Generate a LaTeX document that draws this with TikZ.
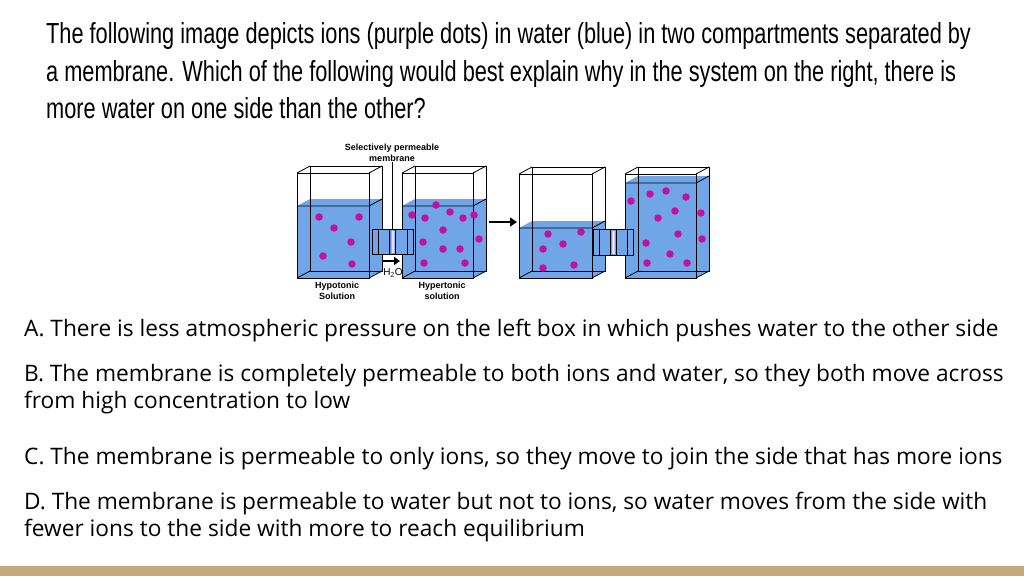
\documentclass[tikz,border=0pt]{standalone}
\usetikzlibrary{arrows.meta}
\usepackage{fontspec}
\setmainfont{Open Sans}
\newfontfamily\titlefont[FakeStretch=0.75]{Liberation Sans}
\newfontfamily\lblfont{Liberation Sans}
\definecolor{water}{RGB}{112,166,232}
\definecolor{ion}{RGB}{196,16,160}
\definecolor{bar}{RGB}{196,168,126}
\newcommand\tank[5]{%
 \fill[water] (#1,#5) -- (#1+13,#5-7) -- (#2+13,#5-7) -- (#2+13,#4-7) -- (#2,#4) -- (#1,#4) -- cycle;
 \draw[edge] (#1,#3) rectangle (#2,#4);
 \draw[edge] (#1+13,#3-7) rectangle (#2+13,#4-7);
 \draw[edge] (#1,#3) -- (#1+13,#3-7) (#2,#3) -- (#2+13,#3-7) (#1,#4) -- (#1+13,#4-7) (#2,#4) -- (#2+13,#4-7);
 \draw[edge] (#1,#5) -- (#2,#5) -- (#2+13,#5-7);
}
\newcommand\tube[4]{%
 \fill[water] (#1,#3) rectangle (#2,#4);
 \draw[edge] (#1,#3) rectangle (#2,#4);
 \draw[edge] (#1+6,#3) -- (#1+6,#4) (#2-6,#3) -- (#2-6,#4);
 \shade[left color=water!60!blue, right color=water!60!blue, middle color=white] ({(#1+#2)/2-3},#3+2) rectangle ({(#1+#2)/2+3},#4-2);
 \draw[edge] ({(#1+#2)/2-3},#3) -- ({(#1+#2)/2-3},#4) ({(#1+#2)/2+3},#3) -- ({(#1+#2)/2+3},#4);
}
\tikzset{edge/.style={black,line width=0.8pt},
 dot/.style={fill=ion,draw=none,circle,minimum size=7.5pt,inner sep=0pt},
 title/.style={anchor=west,font=\titlefont\fontsize{29}{30}\selectfont,inner sep=0pt},
 opt/.style={anchor=west,font=\fontsize{22.7}{25}\selectfont,inner sep=0pt},
 lbl/.style={font=\lblfont\bfseries\fontsize{9}{11}\selectfont,align=center,inner sep=0pt}}
\begin{document}
\begin{tikzpicture}[x=1pt,y=-1pt]
\useasboundingbox (0,0) rectangle (1024,576);
\fill[white] (0,0) rectangle (1024,576);
\fill[bar] (0,566) rectangle (1024,576);
\node[title] (t1) at (46,36) {The following image depicts ions (purple dots) in water (blue) in two compartments separated by};
\node[title] (t2) at (46,74) {a membrane. Which of the following would best explain why in the system on the right, there is};
\node[title] (t3) at (46,108) {more water on one side than the other?};
\tank{297}{369}{173}{278}{206}
\tank{402}{473}{173}{278}{206}
\tank{519}{592}{174}{278}{228}
\tank{625}{696}{174}{278}{183}
\tube{372}{413}{229}{254}
\tube{593}{633}{229}{255}
\draw[edge] (392,162) -- (392,229);
\node[lbl] (sel) at (392,153) {Selectively permeable\\membrane};
\draw[line width=2.5pt,-{Triangle[length=6pt,width=8pt]}] (383,261) -- (400,261);
\node[font=\lblfont\fontsize{10}{11}\selectfont,inner sep=0pt] (h2o) at (393,273) {H$_{\mathrm{2}}$O};
\draw[line width=2.5pt,-{Triangle[length=7pt,width=9pt]}] (489,222) -- (517,222);
\node[lbl] (hypo) at (337,291) {Hypotonic\\Solution};
\node[lbl] (hyper) at (442,291) {Hypertonic\\solution};
\foreach \p in {(319,217),(359,217),(334,228),(351,242),(323,256),(352,264),
 (436,205),(412,215),(425,218),(450,212),(463,218),(474,215),(443,230),(479,239),(423,242),(443,249),(460,249),(424,263),(465,263),
 (548,234),(581,232),(563,244),(543,249),(574,265),(543,268),
 (631,201),(650,194),(666,191),(686,197),(675,211),(658,218),(701,213),(678,234),(646,243),(702,239),(670,254),(647,263),(687,263)}
 \node[dot] at \p {};
\node[opt] (a) at (24,331) {A. There is less atmospheric pressure on the left box in which pushes water to the other side};
\node[opt] (b1) at (24,376) {B. The membrane is completely permeable to both ions and water, so they both move across};
\node[opt] (b2) at (24,403) {from high concentration to low};
\node[opt] (c) at (24,459) {C. The membrane is permeable to only ions, so they move to join the side that has more ions};
\node[opt] (d1) at (24,504) {D. The membrane is permeable to water but not to ions, so water moves from the side with};
\node[opt] (d2) at (24,531) {fewer ions to the side with more to reach equilibrium};
\end{tikzpicture}
\end{document}
